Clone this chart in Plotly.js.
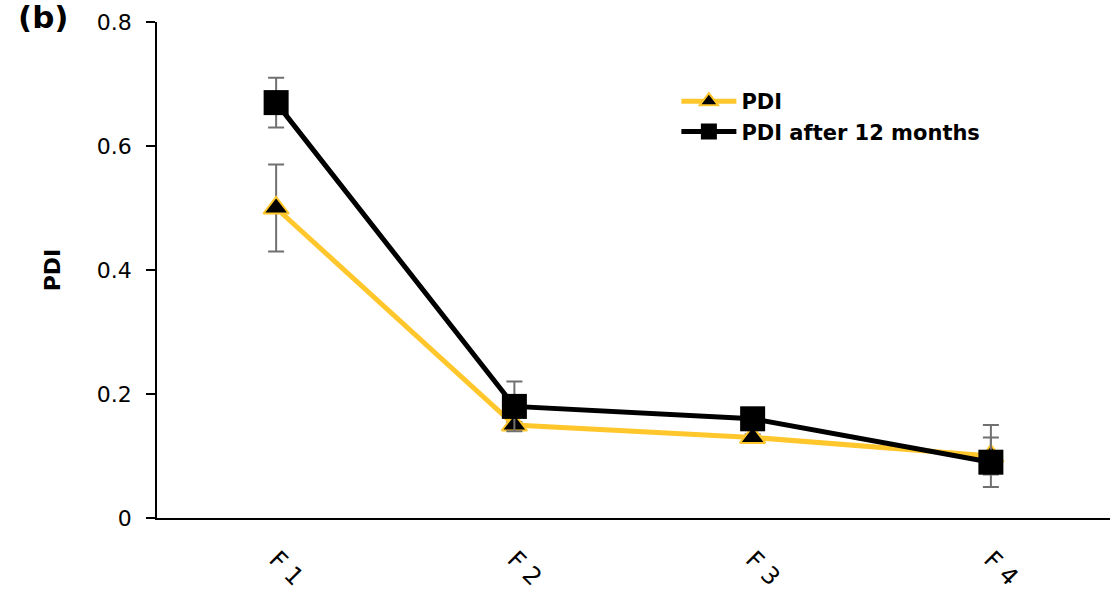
<!DOCTYPE html>
<html>
<head>
<meta charset="utf-8">
<script src="https://cdn.plot.ly/plotly-3.0.1.min.js"></script>
<style>html,body{margin:0;padding:0;background:#fff;}#chart{width:1115px;height:591px;}</style>
</head>
<body>
<div id="chart"></div>
<script>
var categories = ["F 1", "F 2", "F 3", "F 4"];
var pdi = [0.50, 0.15, 0.13, 0.10];
var pdiErrPlus = [0.07, 0.005, 0.005, 0.03];
var pdiErrMinus = [0.07, 0.005, 0.005, 0.03];
var pdi12 = [0.67, 0.18, 0.16, 0.09];
var pdi12ErrPlus = [0.04, 0.04, 0.01, 0.06];
var pdi12ErrMinus = [0.04, 0.04, 0.01, 0.04];
var seriesNames = ["PDI", "PDI after 12 months"];

var font = "'DejaVu Sans', Verdana, sans-serif";

var traces = [
  {
    x: categories, y: pdi, name: seriesNames[0], type: "scatter", mode: "lines+markers",
    line: {color: "#FFC72C", width: 5},
    marker: {symbol: "triangle-up", size: 22, color: "#000", line: {color: "#FFC72C", width: 2}},
    error_y: {type: "data", array: pdiErrPlus, arrayminus: pdiErrMinus, symmetric: false, visible: true, color: "#707070", thickness: 2, width: 8}
  },
  {
    x: categories, y: pdi12, name: seriesNames[1], type: "scatter", mode: "lines+markers",
    line: {color: "#000", width: 5},
    marker: {symbol: "square", size: 25, color: "#000"},
    error_y: {type: "data", array: pdi12ErrPlus, arrayminus: pdi12ErrMinus, symmetric: false, visible: true, color: "#707070", thickness: 2, width: 8}
  }
];

var layout = {
  width: 1115, height: 591,
  margin: {l: 157, r: 5, t: 22, b: 73},
  paper_bgcolor: "#fff", plot_bgcolor: "#fff",
  font: {family: font, size: 22, color: "#000"},
  showlegend: true,
  legend: {x: 0.545, y: 0.881, xanchor: "left", yanchor: "top", bgcolor: "rgba(0,0,0,0)",
           itemwidth: 55, font: {family: font, size: 21, color: "#000", weight: "bold"}, tracegroupgap: 0},
  xaxis: {
    type: "category", range: [-0.5, 3.5], showline: true, linecolor: "#000", linewidth: 1.5,
    ticks: "", tickangle: 45, showgrid: false, zeroline: false, ticklabelstandoff: 16,
    tickfont: {family: font, size: 24, color: "#000"}
  },
  yaxis: {
    range: [0, 0.8], dtick: 0.2, tick0: 0, showline: true, linecolor: "#000", linewidth: 1.5,
    ticks: "outside", ticklen: 9, tickwidth: 1.5, tickcolor: "#000", ticklabelstandoff: 10,
    showgrid: false, zeroline: false,
    tickfont: {family: font, size: 22, color: "#000"},
    title: {text: "PDI", font: {family: font, size: 22, color: "#000", weight: "bold"}, standoff: 30}
  },
  annotations: [
    {text: "(b)", xref: "paper", yref: "paper", x: -0.148, y: 1.05, xanchor: "left", yanchor: "top",
     showarrow: false, font: {family: font, size: 31, color: "#000", weight: "bold"}}
  ]
};

Plotly.newPlot("chart", traces, layout, {displayModeBar: false});
</script>
</body>
</html>
